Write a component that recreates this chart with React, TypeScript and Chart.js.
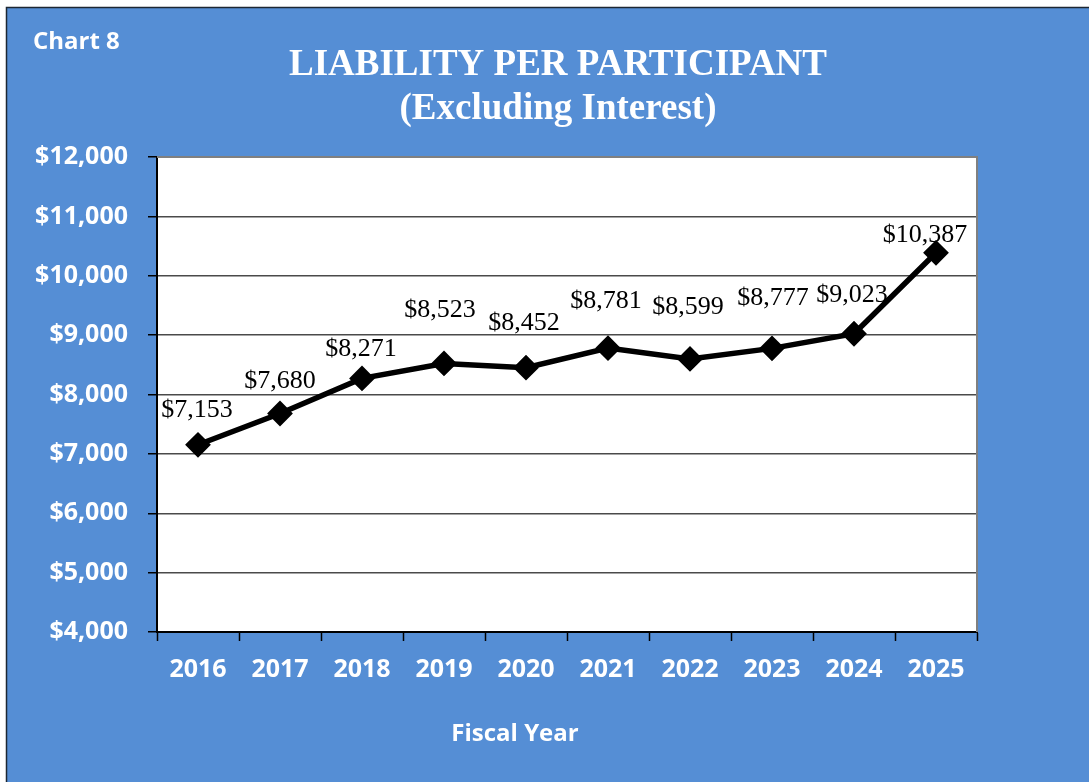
import React, { useEffect, useRef } from "react";
import { Chart, registerables } from "chart.js";

Chart.register(...registerables);

const years = ["2016", "2017", "2018", "2019", "2020", "2021", "2022", "2023", "2024", "2025"];
const liability = [7153, 7680, 8271, 8523, 8452, 8781, 8599, 8777, 9023, 10387];
const yMin = 4000;
const yMax = 12000;
const yStep = 1000;

const chartLabel = "Chart 8";
const titleLines = ["LIABILITY PER PARTICIPANT", "(Excluding Interest)"];
const xAxisTitle = "Fiscal Year";

// label placement relative to each point (dx, dy to baseline)
const labelDx = [-1, 0, -1, -4, -2, -2, -2, 1, -2, -11];
const labelDy = [-28, -26, -22, -46, -38, -40, -45, -43, -32, -11];

const BLUE = "#558ED5";
const fmt = (v: number) => "$" + v.toLocaleString("en-US");

const decorPlugin = {
  id: "decor",
  beforeDraw(chart: any) {
    const { ctx, chartArea } = chart;
    ctx.save();
    ctx.fillStyle = "#ffffff";
    ctx.fillRect(0, 0, chart.width, chart.height);
    ctx.fillStyle = BLUE;
    ctx.fillRect(6, 7, chart.width - 6, chart.height - 7);
    ctx.strokeStyle = "#1c2733";
    ctx.lineWidth = 1.5;
    ctx.beginPath();
    ctx.moveTo(6.5, chart.height);
    ctx.lineTo(6.5, 7.5);
    ctx.lineTo(chart.width, 7.5);
    ctx.stroke();
    ctx.fillStyle = "#ffffff";
    ctx.fillRect(chartArea.left, chartArea.top, chartArea.right - chartArea.left, chartArea.bottom - chartArea.top);
    ctx.restore();
  },
  beforeDatasetsDraw(chart: any) {
    const { ctx, chartArea } = chart;
    ctx.save();
    ctx.strokeStyle = "#808080";
    ctx.lineWidth = 2;
    ctx.beginPath();
    ctx.moveTo(chartArea.left, chartArea.top);
    ctx.lineTo(chartArea.right, chartArea.top);
    ctx.lineTo(chartArea.right, chartArea.bottom);
    ctx.stroke();
    ctx.restore();
  },
  afterDraw(chart: any) {
    const { ctx } = chart;
    ctx.save();
    ctx.fillStyle = "#ffffff";
    ctx.textBaseline = "middle";
    ctx.textAlign = "left";
    ctx.font = "bold 24px 'Open Sans'";
    ctx.fillText(chartLabel, 33, 42);
    ctx.textAlign = "center";
    ctx.font = "bold 37px 'Liberation Serif'";
    ctx.fillText(titleLines[0], 558, 65);
    ctx.fillText(titleLines[1], 558, 109);
    ctx.font = "bold 24px 'Open Sans'";
    ctx.fillText(xAxisTitle, 515, 734);
    ctx.restore();
  },
  afterDatasetsDraw(chart: any) {
    const { ctx } = chart;
    const meta = chart.getDatasetMeta(0);
    ctx.save();
    ctx.fillStyle = "#000000";
    ctx.font = "26px 'Liberation Serif'";
    ctx.textAlign = "center";
    ctx.textBaseline = "alphabetic";
    meta.data.forEach((pt: any, i: number) => {
      ctx.fillText(fmt(liability[i]), pt.x + labelDx[i], pt.y + labelDy[i]);
    });
    ctx.restore();
  },
};

export default function App() {
  const ref = useRef<HTMLCanvasElement>(null);
  useEffect(() => {
    if (!ref.current) return;
    const chart = new Chart(ref.current, {
      type: "line",
      data: {
        labels: years,
        datasets: [
          {
            data: liability,
            borderColor: "#000000",
            borderWidth: 5.5,
            pointStyle: "rectRot",
            pointRadius: 9,
            pointBackgroundColor: "#000000",
            pointBorderColor: "#000000",
            tension: 0,
          },
        ],
      },
      options: {
        responsive: false,
        animation: false,
        events: [],
        layout: { padding: { left: 0, top: 157, right: 112, bottom: 0 } },
        plugins: { legend: { display: false }, title: { display: false }, tooltip: { enabled: false } },
        scales: {
          x: {
            type: "category",
            offset: true,
            grid: { offset: true, drawOnChartArea: false, tickLength: 9, tickColor: "#000", tickWidth: 1.5 },
            border: { color: "#000", width: 2 },
            ticks: { color: "#ffffff", font: { family: "'Open Sans'", size: 25, weight: "bold" }, padding: 14, maxRotation: 0 },
            afterFit: (s: any) => { s.height = 150; },
          },
          y: {
            min: yMin,
            max: yMax,
            grid: { color: "#4a4a4a", lineWidth: 1.5, tickLength: 9, tickColor: "#000", tickWidth: 1.5 },
            border: { color: "#000", width: 2 },
            ticks: {
              stepSize: yStep,
              color: "#ffffff",
              font: { family: "'Open Sans'", size: 25, weight: "bold" },
              padding: 20,
              callback: (v: any) => fmt(Number(v)),
            },
            afterFit: (s: any) => { s.width = 157; },
          },
        },
      },
      plugins: [decorPlugin],
    });
    return () => chart.destroy();
  }, []);
  return (
    <div style={{ position: "fixed", left: 0, top: 0, width: 1089, height: 782 }}>
      <canvas ref={ref} width={1089} height={782} style={{ display: "block" }} />
    </div>
  );
}
